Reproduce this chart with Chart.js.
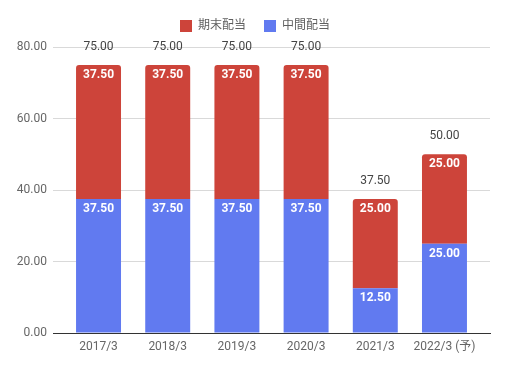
<!DOCTYPE html>
<html><head><meta charset="utf-8">
<script src="https://cdn.jsdelivr.net/npm/chart.js@4"></script>
<style>html,body{margin:0;padding:0;background:#fff}#wrap{width:510px;height:369px}</style>
</head><body><div id="wrap"><canvas id="c" width="510" height="369"></canvas></div>
<script>
const categories = ['2017/3','2018/3','2019/3','2020/3','2021/3','2022/3 (予)'];
const interimDividend = [37.5,37.5,37.5,37.5,12.5,25];
const finalDividend = [37.5,37.5,37.5,37.5,25,25];
const totalDividend = [75,75,75,75,37.5,50];
const yTicks = [0,20,40,60,80];
const FONT = "Roboto, 'Noto Sans CJK JP', sans-serif";

const labelPlugin = {
  id: 'labels',
  afterDatasetsDraw(chart) {
    const ctx = chart.ctx;
    const y = chart.scales.y;
    ctx.save();
    ctx.textAlign = 'center';
    ctx.textBaseline = 'middle';
    chart.data.datasets.forEach((ds, di) => {
      const meta = chart.getDatasetMeta(di);
      meta.data.forEach((bar, i) => {
        ctx.font = 'bold 12px ' + FONT;
        ctx.fillStyle = '#ffffff';
        ctx.fillText(ds.data[i].toFixed(2), bar.x, bar.y + 10);
      });
    });
    const meta = chart.getDatasetMeta(0);
    ctx.font = '12px ' + FONT;
    ctx.fillStyle = '#444444';
    totalDividend.forEach((t, i) => {
      ctx.fillText(t.toFixed(2), meta.data[i].x, y.getPixelForValue(t) - 18);
    });
    ctx.restore();
  }
};

const layoutPlugin = {
  id: 'layoutTweak',
  beforeInit(chart) {
    const lg = chart.legend;
    if (lg) {
      const fit = lg.fit;
      lg.fit = function () { fit.call(this); this.height += 5; };
    }
  },
  afterLayout(chart) {
    const x = chart.scales.x;
    const d = 0.158;
    x._startValue -= d;
    x._valueRange += 2 * d;
  }
};

new Chart(document.getElementById('c'), {
  type: 'bar',
  data: {
    labels: categories,
    datasets: [
      { label: '中間配当', data: interimDividend, backgroundColor: '#617af0', borderRadius: 0, categoryPercentage: 0.65, barPercentage: 1 },
      { label: '期末配当', data: finalDividend, backgroundColor: '#cd443a', borderRadius: {topLeft:3, topRight:3}, borderSkipped: 'bottom', categoryPercentage: 0.65, barPercentage: 1 }
    ]
  },
  options: {
    responsive: false,
    animation: false,
    devicePixelRatio: 1,
    layout: { padding: { right: 0, top: 2, left: 0, bottom: 0 } },
    plugins: {
      legend: {
        position: 'top', reverse: true,
        labels: { boxWidth: 12, boxHeight: 12, padding: 18, color: '#5f5f5f', font: { family: FONT, size: 12 } }
      },
      tooltip: { enabled: false }
    },
    scales: {
      x: {
        stacked: true,
        grid: { display: false, drawTicks: false },
        border: { display: true, color: '#333', width: 1 },
        ticks: { color: '#666', font: { family: FONT, size: 12 }, padding: 7, maxRotation: 0 },
        afterFit(s) { s.height = 36; }
      },
      y: {
        stacked: true, min: 0, max: 80,
        afterBuildTicks(s) { s.ticks = yTicks.map(v => ({ value: v })); },
        grid: { color: '#d9d9d9', drawTicks: false },
        border: { display: false },
        ticks: { color: '#666', font: { family: FONT, size: 12 }, padding: 6, callback: v => v.toFixed(2) },
        afterFit(s) { s.width = 53; }
      },
      yRight: {
        position: 'right', display: true, min: 0, max: 80,
        grid: { display: false, drawTicks: false },
        border: { display: false },
        ticks: { display: false },
        afterFit(s) { s.width = 20; }
      }
    }
  },
  plugins: [layoutPlugin, labelPlugin]
});
</script></body></html>
